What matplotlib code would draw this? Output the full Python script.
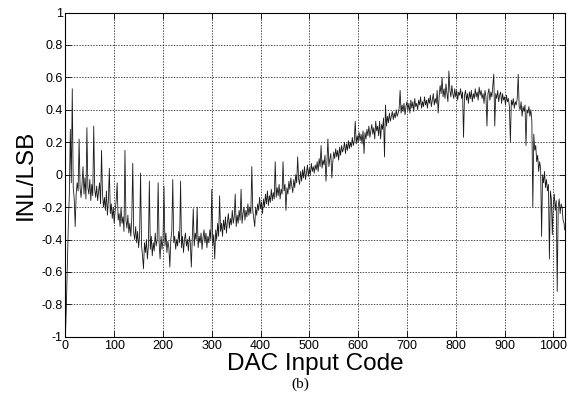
import numpy as np
import matplotlib.pyplot as plt
from matplotlib.ticker import FuncFormatter

# INL, one value every 2 codes (plus the last code)
codes = list(range(0, 1024, 2)) + [1023]
inl = [
    -1.00, -0.80, -0.55, -0.30, -0.12, 0.28, -0.05, 0.53, -0.08, -0.15, -0.32, -0.12, -0.05, -0.10, 0.22, -0.08,
    -0.14, -0.06, 0.05, -0.12, -0.02, -0.15, 0.29, -0.08, -0.12, -0.03, -0.16, -0.06, -0.13, 0.30, -0.09, -0.14,
    -0.07, -0.16, -0.10, -0.05, -0.18, 0.15, -0.12, -0.20, -0.14, -0.22, -0.10, -0.25, -0.16, 0.04, -0.24, -0.18,
    -0.27, -0.20, -0.30, -0.22, -0.16, -0.05, -0.28, -0.24, -0.32, -0.20, -0.30, -0.26, -0.35, 0.15, -0.28, -0.33,
    -0.25, -0.36, -0.30, -0.38, -0.27, 0.07, -0.36, -0.40, -0.32, -0.42, -0.35, -0.45, -0.38, 0.01, -0.44, -0.50,
    -0.58, -0.42, -0.48, -0.40, -0.52, -0.44, -0.04, -0.46, -0.38, -0.50, -0.42, -0.47, -0.36, -0.44, -0.40, -0.05,
    -0.42, -0.52, -0.38, -0.46, -0.40, -0.07, -0.44, -0.36, -0.48, -0.41, -0.45, -0.57, -0.40, -0.35, -0.03, -0.42,
    -0.38, -0.46, -0.40, -0.44, -0.35, -0.42, -0.04, -0.45, -0.38, -0.48, -0.40, -0.36, -0.44, -0.40, -0.47, -0.38,
    -0.42, -0.57, -0.38, -0.21, -0.44, -0.36, -0.40, -0.20, -0.45, -0.38, -0.42, -0.36, -0.46, -0.39, -0.34, -0.42,
    -0.36, -0.45, -0.38, -0.42, -0.34, -0.40, -0.09, -0.44, -0.37, -0.52, -0.34, -0.40, -0.30, -0.38, -0.13, -0.35,
    -0.30, -0.38, -0.28, -0.34, -0.26, -0.36, -0.29, -0.24, -0.33, -0.27, -0.31, -0.22, -0.30, -0.26, -0.12, -0.32,
    -0.25, -0.30, -0.22, -0.28, -0.09, -0.30, -0.24, -0.20, -0.28, -0.22, -0.26, -0.18, -0.25, -0.20, -0.24, 0.05,
    -0.22, -0.27, -0.32, -0.20, -0.25, -0.18, -0.22, -0.14, -0.21, -0.17, -0.24, -0.15, -0.20, -0.12, -0.18, -0.10,
    -0.19, -0.13, -0.17, -0.09, -0.16, -0.11, -0.15, 0.08, -0.14, -0.08, -0.13, -0.06, -0.15, -0.09, -0.12, 0.08,
    -0.10, -0.06, -0.22, -0.08, -0.12, -0.04, -0.09, -0.02, -0.07, -0.11, -0.03, -0.08, 0.00, -0.05, 0.11, -0.03,
    -0.06, 0.02, -0.04, 0.03, -0.02, 0.05, -0.03, 0.01, 0.06, -0.01, 0.04, 0.00, 0.07, 0.02, 0.05, 0.01,
    0.06, 0.03, 0.08, 0.02, 0.10, 0.05, 0.18, 0.04, 0.09, 0.06, 0.12, -0.04, 0.08, 0.22, 0.05, 0.10,
    0.13, -0.02, 0.08, 0.14, 0.10, 0.16, 0.11, 0.15, 0.09, 0.17, 0.12, 0.18, 0.14, 0.16, 0.20, 0.13,
    0.19, 0.15, 0.21, 0.16, 0.20, 0.17, 0.23, 0.18, 0.21, 0.33, 0.19, 0.24, 0.20, 0.26, 0.21, 0.25,
    0.19, 0.27, 0.13, 0.26, 0.22, 0.28, 0.24, 0.30, 0.23, 0.27, 0.31, 0.25, 0.29, 0.22, 0.33, 0.27,
    0.30, 0.24, 0.33, 0.22, 0.31, 0.28, 0.35, 0.11, 0.43, 0.30, 0.36, 0.32, 0.38, 0.33, 0.36, 0.39,
    0.34, 0.38, 0.35, 0.40, 0.36, 0.38, 0.41, 0.52, 0.38, 0.43, 0.39, 0.44, 0.37, 0.42, 0.45, 0.40,
    0.44, 0.38, 0.46, 0.41, 0.45, 0.39, 0.47, 0.42, 0.44, 0.40, 0.46, 0.43, 0.48, 0.41, 0.45, 0.42,
    0.48, 0.43, 0.46, 0.41, 0.47, 0.44, 0.49, 0.42, 0.46, 0.50, 0.43, 0.47, 0.44, 0.52, 0.38, 0.48,
    0.55, 0.50, 0.60, 0.48, 0.53, 0.47, 0.56, 0.50, 0.45, 0.64, 0.52, 0.48, 0.55, 0.50, 0.47, 0.53,
    0.48, 0.52, 0.46, 0.51, 0.49, 0.53, 0.47, 0.51, 0.23, 0.49, 0.52, 0.46, 0.50, 0.44, 0.51, 0.47,
    0.52, 0.45, 0.50, 0.47, 0.53, 0.48, 0.51, 0.46, 0.54, 0.49, 0.52, 0.47, 0.50, 0.44, 0.52, 0.48,
    0.30, 0.50, 0.53, 0.46, 0.51, 0.48, 0.55, 0.62, 0.30, 0.50, 0.47, 0.52, 0.45, 0.49, 0.51, 0.44,
    0.50, 0.46, 0.48, 0.43, 0.49, 0.45, 0.47, 0.42, 0.20, 0.46, 0.43, 0.47, 0.41, 0.45, 0.43, 0.47,
    0.62, 0.42, 0.40, 0.45, 0.36, 0.42, 0.39, 0.43, 0.18, 0.40, 0.38, 0.42, 0.36, 0.40, 0.33, -0.20,
    0.25, 0.15, 0.18, 0.08, 0.12, 0.02, 0.08, 0.04, -0.38, 0.00, -0.05, 0.02, -0.08, -0.03, -0.10, -0.06,
    -0.52, -0.10, -0.15, -0.37, -0.18, -0.12, -0.22, -0.16, -0.72, -0.20, -0.15, -0.24, -0.18, -0.20, -0.28, -0.30,
    -0.34,
]

xticks = list(range(0, 1001, 100))
yticks = [-1, -0.8, -0.6, -0.4, -0.2, 0, 0.2, 0.4, 0.6, 0.8, 1]

plt.rcParams['font.family'] = ['Liberation Sans', 'DejaVu Sans']

fig = plt.figure(figsize=(5.69, 3.93), dpi=100)
ax = fig.add_axes([0.115, 0.143, 0.878, 0.825])

ax.plot(codes, inl, color='#1a1a1a', linewidth=0.6)

ax.set_xlim(0, 1024)
ax.set_ylim(-1, 1)
ax.set_xticks(xticks)
ax.set_yticks(yticks)
ax.yaxis.set_major_formatter(FuncFormatter(lambda v, p: '%g' % v))
ax.tick_params(direction='in', length=4, width=0.6, labelsize=9,
               top=True, right=True, pad=2)
ax.grid(True, color='k', linestyle=(0, (2, 2)), linewidth=0.5)
for s in ax.spines.values():
    s.set_linewidth(0.8)

ax.set_xlabel('DAC Input Code', fontsize=17.5, labelpad=1)
ax.set_ylabel('INL/LSB', fontsize=17.5, labelpad=3)

fig.text(0.527, 0.012, '(b)', family=['Liberation Serif'], fontsize=11, ha='center')

fig.savefig('out.png', dpi=100)
